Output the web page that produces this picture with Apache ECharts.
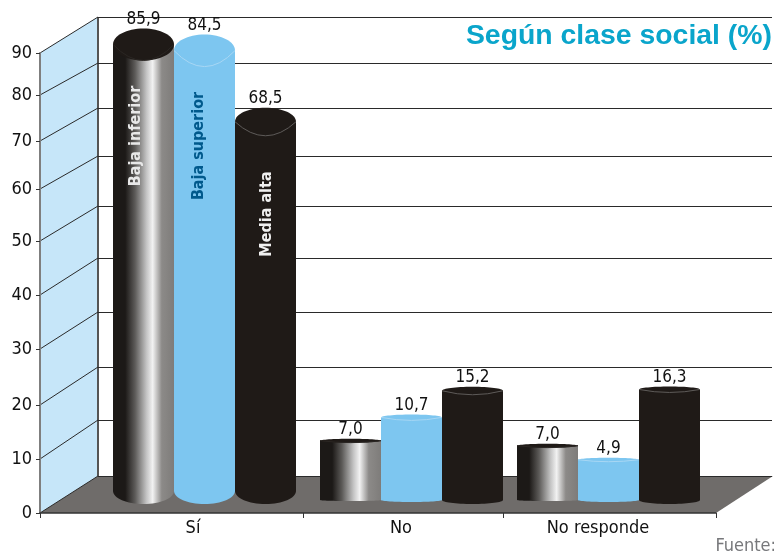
<!DOCTYPE html>
<html>
<head>
<meta charset="utf-8">
<style>html,body{margin:0;padding:0;background:#fff}#chart1{width:774px;height:557px}</style>
<script src="https://cdn.jsdelivr.net/npm/echarts@6/dist/echarts.min.js"></script>
</head>
<body>
<div id="chart1"></div>
<script>
var categorias = ['Sí', 'No', 'No responde'];
var clases = ['Baja inferior', 'Baja superior', 'Media alta'];
var bajaInferior = [85.9, 7.0, 7.0];
var bajaSuperior = [84.5, 10.7, 4.9];
var mediaAlta = [68.5, 15.2, 16.3];
var yTickLabels = ['0', '10', '20', '30', '40', '50', '60', '70', '80', '90'];

// the axis in the picture is not evenly spaced, so ticks sit where they were measured
var yTicks = [0, 54, 108, 164, 218, 272, 324, 372, 418, 460];
var yFondo = [37, 93, 146, 201, 255, 307, 357, 405, 450, 496];
var xTicks = [0, 263, 463, 676];
var xLabels = [153, 361, 558];
var centros = [164.5, 371.5, 568.5];
var anchoBarra = 61;
var fondoX = 58;
var baseGrupo = [22, 13, 13];
var extraGrupo = [0, 5, 0];
var ryArriba = [[16, 16, 14], [2, 3, 4], [2, 2, 3]];
var ryAbajo = [[13, 13, 13], [1, 2, 4], [1, 2, 4]];

var negro = '#1f1a17';
var celeste = '#7dc6f0';
var metal = {
    type: 'linear', x: 0, y: 0, x2: 1, y2: 0,
    colorStops: [
        { offset: 0, color: '#1c1917' },
        { offset: 0.2, color: '#1c1917' },
        { offset: 0.36, color: '#5c5a58' },
        { offset: 0.55, color: '#c4c4c4' },
        { offset: 0.65, color: '#f2f2f2' },
        { offset: 0.8, color: '#8c8a88' },
        { offset: 1, color: '#7e7c7a' }
    ]
};
var rellenos = [metal, celeste, negro];
var tapas = [negro, celeste, negro];
var brillos = ['#2a2623', '#a8d7f4', '#5e5b59'];
var textoClase = ['#e8e8e8', '#00598c', '#f0f0f0'];
var claseCentroY = [136, 146, 214];
var claseDesvioX = [-8, -6, 1];

// bar heights in the picture grow a bit less than the numbers printed on them
function altura(v) {
    return 10.6 * Math.pow(v, 0.84);
}

function renderDecor(params, api) {
    var i = params.dataIndex;
    var h0 = api.coord([0, yTicks[i]]);
    var h1 = api.coord([fondoX, yFondo[i]]);
    var h2 = api.coord([732, yFondo[i]]);
    var yLinea = Math.round(h1[1]) + 0.5;
    var kids = [];
    if (i === 0) {
        var a = api.coord([0, yTicks[0]]);
        var b = api.coord([0, yTicks[9]]);
        var c = api.coord([fondoX, yFondo[9]]);
        var d = api.coord([fondoX, yFondo[0]]);
        var e = api.coord([733, yFondo[0]]);
        var f = api.coord([676, yTicks[0]]);
        kids.push({ type: 'polygon', shape: { points: [a, b, c, d] }, style: { fill: '#c6e6f9' } });
        kids.push({ type: 'polygon', shape: { points: [a, d, e, f] }, style: { fill: '#6f6c6a' } });
        kids.push({ type: 'line', shape: { x1: c[0], y1: c[1], x2: d[0], y2: d[1] }, style: { stroke: '#555', lineWidth: 2 } });
    }
    kids.push({ type: 'line', shape: { x1: h0[0], y1: h0[1], x2: h1[0], y2: h1[1] }, style: { stroke: '#2a2a2a', lineWidth: 1 } });
    kids.push({ type: 'line', shape: { x1: h1[0], y1: yLinea, x2: h2[0], y2: yLinea }, style: { stroke: '#2a2a2a', lineWidth: 1 } });
    return { type: 'group', children: kids };
}

function renderBarra(serie) {
    return function (params, api) {
        var g = api.value(0);
        var v = api.value(1);
        var x = api.coord([centros[g] + (serie - 1) * anchoBarra, 0])[0];
        var yBase = api.coord([0, baseGrupo[g]])[1];
        var yTop = api.coord([0, baseGrupo[g] + extraGrupo[g] + altura(v)])[1];
        var rx = anchoBarra / 2;
        var ryT = ryArriba[g][serie];
        var ryB = ryAbajo[g][serie];
        var kids = [
            { type: 'ellipse', shape: { cx: x, cy: yBase, rx: rx, ry: ryB }, style: { fill: rellenos[serie] } },
            { type: 'rect', shape: { x: x - rx, y: yTop, width: anchoBarra, height: yBase - yTop }, style: { fill: rellenos[serie] } },
            { type: 'ellipse', shape: { cx: x, cy: yTop, rx: rx, ry: ryT }, style: { fill: tapas[serie] } },
            { type: 'bezierCurve', shape: { x1: x - rx, y1: yTop, x2: x + rx, y2: yTop, cpx1: x, cpy1: yTop + ryT * 2 }, style: { stroke: brillos[serie], fill: null, lineWidth: 1 } },
            {
                type: 'text',
                style: {
                    x: x, y: yTop - ryT - 9,
                    text: v.toFixed(1).replace('.', ','),
                    align: 'center', verticalAlign: 'middle',
                    fontFamily: 'DejaVu Sans Condensed', fontSize: 17, fill: '#111'
                }
            }
        ];
        if (g === 0) {
            kids.push({
                type: 'text',
                x: x + claseDesvioX[serie],
                y: claseCentroY[serie],
                rotation: Math.PI / 2,
                style: {
                    text: clases[serie],
                    align: 'center', verticalAlign: 'middle',
                    fontFamily: 'DejaVu Sans Condensed', fontWeight: 'bold', fontSize: 16,
                    fill: textoClase[serie]
                }
            });
        }
        return { type: 'group', children: kids };
    };
}

function serieBarra(nombre, valores, idx) {
    var data = [];
    for (var i = 0; i < valores.length; i++) {
        data.push([i, valores[i]]);
    }
    return {
        name: nombre,
        type: 'custom',
        coordinateSystem: 'cartesian2d',
        renderItem: renderBarra(idx),
        data: data,
        clip: false,
        z: 3
    };
}

var myChart1 = echarts.init(document.getElementById('chart1'));
var option = {
    animation: false,
    title: [
        {
            text: 'Según clase social (%)',
            right: 2, top: 22, padding: 0,
            textStyle: { fontFamily: 'Liberation Sans', fontWeight: 'bold', fontSize: 28.4, color: '#0aa5cb' }
        },
        {
            text: 'Fuente:',
            right: -2, top: 537, padding: 0,
            textStyle: { fontFamily: 'DejaVu Sans Condensed', fontWeight: 'normal', fontSize: 18, color: '#77787b' }
        }
    ],
    grid: { left: 40, top: 53, width: 676, height: 460 },
    xAxis: {
        type: 'value', min: 0, max: 676, z: 5,
        splitLine: { show: false },
        axisLine: { onZero: false, lineStyle: { color: '#333', width: 1.5 } },
        axisTick: { length: 5, customValues: xTicks, lineStyle: { color: '#333' } },
        axisLabel: {
            customValues: xLabels, margin: 6,
            fontFamily: 'DejaVu Sans Condensed', fontSize: 18, color: '#111',
            formatter: function (value) { return categorias[xLabels.indexOf(value)]; }
        }
    },
    yAxis: {
        type: 'value', min: 0, max: 460, z: 5,
        splitLine: { show: false },
        axisLine: { show: true, lineStyle: { color: '#7f7f7f', width: 2 } },
        axisTick: { show: true, length: 4, customValues: yTicks, lineStyle: { color: '#333' } },
        axisLabel: {
            customValues: yTicks, margin: 8, padding: [6, 0, 0, 0],
            fontFamily: 'DejaVu Sans Condensed', fontSize: 18, color: '#111',
            formatter: function (value) { return yTickLabels[yTicks.indexOf(value)]; }
        }
    },
    series: [
        {
            type: 'custom',
            renderItem: renderDecor,
            data: yTickLabels.map(function (t, i) { return [0, yTicks[i]]; }),
            clip: false,
            silent: true,
            z: 1
        },
        serieBarra(clases[0], bajaInferior, 0),
        serieBarra(clases[1], bajaSuperior, 1),
        serieBarra(clases[2], mediaAlta, 2)
    ]
};
myChart1.setOption(option);
</script>
</body>
</html>
